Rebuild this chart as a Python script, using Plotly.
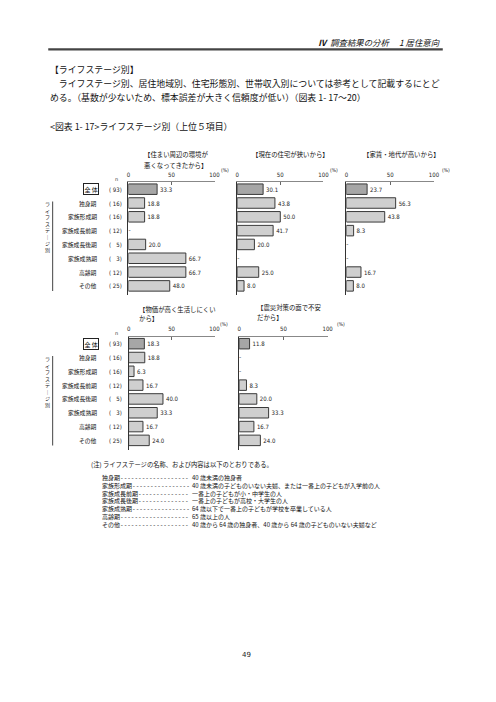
import plotly.graph_objects as go

W, H = 496, 702
JP = "Noto Sans CJK JP"

categories = ["全体", "独身期", "家族形成期", "家族成長前期", "家族成長後期", "家族成熟期", "高齢期", "その他"]
n_values = [93, 16, 16, 12, 5, 3, 12, 25]

titles = [
    ["【住まい周辺の環境が", "悪くなってきたから】"],
    ["【現在の住宅が狭いから】"],
    ["【家賃・地代が高いから】"],
    ["【物価が高く生活しにくい", "から】"],
    ["【震災対策の面で不安", "だから】"],
]
values_env = [33.3, 18.8, 18.8, None, 20.0, 66.7, 66.7, 48.0]
values_narrow = [30.1, 43.8, 50.0, 41.7, 20.0, None, 25.0, 8.0]
values_rent = [23.7, 56.3, 43.8, 8.3, None, None, 16.7, 8.0]
values_price = [18.3, 18.8, 6.3, 16.7, 40.0, 33.3, 16.7, 24.0]
values_quake = [11.8, None, None, 8.3, 20.0, 33.3, 16.7, 24.0]
series = [values_env, values_narrow, values_rent, values_price, values_quake]
x_ticks = [0, 50, 100]

note_labels = ["独身期", "家族形成期", "家族成長前期", "家族成長後期", "家族成熟期", "高齢期", "その他"]
note_texts = [
    "40 歳未満の独身者",
    "40 歳未満の子どものいない夫婦、または一番上の子どもが入学前の人",
    "一番上の子どもが小・中学生の人",
    "一番上の子どもが高校・大学生の人",
    "64 歳以下で一番上の子どもが学校を卒業している人",
    "65 歳以上の人",
    "40 歳から 64 歳の独身者、40 歳から 64 歳の子どものいない夫婦など",
]

# layout geometry (pixels)
layout_px = [
    dict(x0=128.5, x1=216.0, yt=182.0, yb=295.0, tx=142, ty=[154.7, 165.0], px=227, py=169.5),
    dict(x0=239.0, x1=326.7, yt=182.0, yb=295.0, tx=252, ty=[154.7], px=337, py=169.5),
    dict(x0=350.0, x1=439.0, yt=182.0, yb=295.0, tx=365, ty=[154.7], px=451, py=169.5),
    dict(x0=128.7, x1=216.0, yt=336.5, yb=449.5, tx=137, ty=[309.0, 318.8], px=226, py=324),
    dict(x0=241.0, x1=331.0, yt=336.5, yb=449.5, tx=257, ty=[307.5, 317.0], px=345, py=324),
]


def px_x(v):
    return v / W


def px_y(v):
    return 1 - v / H


fig = go.Figure()
annotations = []
shapes = []

for i, (vals, g) in enumerate(zip(series, layout_px)):
    k = "" if i == 0 else str(i + 1)
    xa, ya = "x" + k, "y" + k
    colors = ["#a6a6a6"] + ["#cfcfcf"] * (len(categories) - 1)
    fig.add_trace(go.Bar(
        x=vals, y=categories, orientation="h", xaxis=xa, yaxis=ya,
        marker=dict(color=colors, line=dict(color="#3a3a3a", width=1)),
        text=[("%.1f" % v) if v is not None else "" for v in vals],
        textposition="outside", constraintext="none", cliponaxis=False,
        textfont=dict(family="DejaVu Sans Condensed", size=6, color="#222"),
        width=0.76, hoverinfo="skip",
    ))
    miss = [c for c, v in zip(categories, vals) if v is None]
    if miss:
        fig.add_trace(go.Scatter(
            x=[0] * len(miss), y=miss, mode="text", text=["-"] * len(miss),
            textposition="middle right", xaxis=xa, yaxis=ya, cliponaxis=False,
            textfont=dict(family="DejaVu Sans", size=6, color="#333"), hoverinfo="skip",
        ))
    fig.layout["xaxis" + k] = dict(
        domain=[px_x(g["x0"]), px_x(g["x1"])], range=[0, 100], anchor=ya, side="top",
        tickvals=x_ticks, ticktext=[str(t) for t in x_ticks],
        tickfont=dict(family="DejaVu Sans Condensed", size=6, color="#222"),
        ticks="inside", ticklen=3, tickcolor="#666", showline=True, linecolor="#888",
        linewidth=1, showgrid=False, zeroline=False, fixedrange=True, ticklabelstandoff=2,
    )
    fig.layout["yaxis" + k] = dict(
        domain=[px_y(g["yb"]), px_y(g["yt"])], anchor=xa, type="category",
        categoryorder="array", categoryarray=categories, range=[7.66, -0.52],
        showticklabels=False, ticks="", showline=True, linecolor="#333", linewidth=1,
        showgrid=False, zeroline=False, fixedrange=True,
    )
    for line, ty in zip(titles[i], g["ty"]):
        annotations.append(dict(x=px_x(g["tx"]), y=px_y(ty), xref="paper", yref="paper",
                                text=line, showarrow=False, xanchor="left", yanchor="middle",
                                font=dict(family=JP, size=6.4, color="#111")))
    annotations.append(dict(x=px_x(g["px"]), y=px_y(g["py"]), xref="paper", yref="paper",
                            text="(%)", showarrow=False, xanchor="center", yanchor="middle",
                            font=dict(family="DejaVu Sans Condensed", size=5, color="#222")))
    if i in (0, 3):
        annotations.append(dict(x=px_x(116), y=px_y(g["yt"] - 3), xref="paper", yref="paper",
                                text="n", showarrow=False, xanchor="center", yanchor="middle",
                                font=dict(family="DejaVu Sans", size=5, color="#333")))
        for c, n in zip(categories, n_values):
            if c == "全体":
                annotations.append(dict(x=px_x(99), y=c, xref="paper", yref=ya, text="全 体",
                                        showarrow=False, xanchor="right", yanchor="middle",
                                        bordercolor="#222", borderwidth=1, borderpad=0.5,
                                        font=dict(family=JP, size=6, color="#111")))
            else:
                annotations.append(dict(x=px_x(99), y=c, xref="paper", yref=ya, text=c,
                                        showarrow=False, xanchor="right", yanchor="middle",
                                        font=dict(family=JP, size=5.8, color="#111")))
            ntxt = "( %d)" % n if n >= 10 else "( \u2007%d)" % n
            annotations.append(dict(x=px_x(123.5), y=c, xref="paper", yref=ya, text=ntxt,
                                    showarrow=False, xanchor="right", yanchor="middle",
                                    font=dict(family="DejaVu Sans Condensed", size=6, color="#222")))
        # vertical group label (stacked characters)
        vtext = "<br>".join(["ラ", "イ", "フ", "ス", "テ", "｜", "ジ", "別"])
        annotations.append(dict(x=px_x(46.5), y=px_y(g["yt"] + 16), xref="paper", yref="paper",
                                text=vtext, showarrow=False, xanchor="center", yanchor="top",
                                font=dict(family=JP, size=5, color="#222")))
        shapes.append(dict(type="line", xref="paper", yref="paper",
                           x0=px_x(51.5), x1=px_x(51.5), y0=px_y(g["yt"] + 19.5), y1=px_y(g["yb"] - 4),
                           line=dict(color="#444", width=1)))

# header
annotations.append(dict(x=px_x(447), y=px_y(41.5), xref="paper", yref="paper",
                        text="<i><b>Ⅳ</b>  調査結果の分析　 1 居住意向</i>", showarrow=False,
                        xanchor="right", yanchor="middle", font=dict(family=JP, size=8.4, color="#111")))
shapes.append(dict(type="line", xref="paper", yref="paper", x0=px_x(47), x1=px_x(448),
                   y0=px_y(49.3), y1=px_y(49.3), line=dict(color="#444", width=2.2)))

body = [
    (47, 69.3, "【ライフステージ別】"),
    (47, 83.3, "　ライフステージ別、居住地域別、住宅形態別、世帯収入別については参考として記載するにとど"),
    (47, 97.3, "める。（基数が少ないため、標本誤差が大きく信頼度が低い）（図表 1- 17～20）"),
    (47, 126.0, "<図表 1- 17>ライフステージ別（上位５項目）"),
]
for x, y, t in body:
    annotations.append(dict(x=px_x(x), y=px_y(y), xref="paper", yref="paper",
                            text=t.replace("<", "&lt;").replace(">", "&gt;"),
                            showarrow=False, xanchor="left", yanchor="middle",
                            font=dict(family=JP, size=8.9, color="#111")))

# notes
annotations.append(dict(x=px_x(88), y=px_y(464.5), xref="paper", yref="paper",
                        text="(注) ライフステージの名称、および内容は以下のとおりである。", showarrow=False,
                        xanchor="left", yanchor="middle", font=dict(family=JP, size=6.3, color="#111")))
NOTE_FS = 6
label_lines = []
for lab in note_labels:
    ndash = int((189 - (99.3 + NOTE_FS * len(lab) + 0.5)) / 3.61)
    label_lines.append(lab + "<span style=\"font-family:'DejaVu Sans Mono'\">" + "-" * ndash + "</span>")
annotations.append(dict(x=px_x(99.3), y=px_y(470.5), xref="paper", yref="paper",
                        text="<br>".join(label_lines), showarrow=False, xanchor="left", yanchor="top",
                        align="left", font=dict(family=JP, size=NOTE_FS, color="#111")))
annotations.append(dict(x=px_x(191), y=px_y(470.5), xref="paper", yref="paper",
                        text="<br>".join(note_texts), showarrow=False, xanchor="left", yanchor="top",
                        align="left", font=dict(family=JP, size=NOTE_FS, color="#111")))

annotations.append(dict(x=px_x(248), y=px_y(655), xref="paper", yref="paper", text="49",
                        showarrow=False, xanchor="center", yanchor="middle",
                        font=dict(family="DejaVu Sans", size=7, color="#222")))

fig.update_layout(
    width=W, height=H, margin=dict(l=0, r=0, t=0, b=0),
    paper_bgcolor="white", plot_bgcolor="white", showlegend=False,
    annotations=annotations, shapes=shapes, barmode="overlay",
    font=dict(family=JP),
)
fig.write_html("out.html", config={"displayModeBar": False},
               post_script="document.body.style.margin='0';document.body.style.overflow='hidden';")
